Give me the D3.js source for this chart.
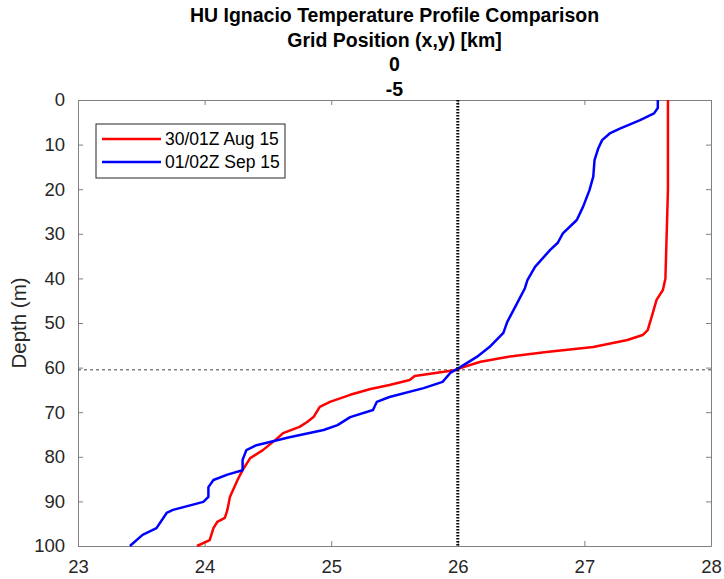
<!DOCTYPE html>
<html>
<head>
<meta charset="utf-8">
<script src="https://cdn.jsdelivr.net/npm/d3@7"></script>
<style>
  body { margin: 0; background: #fff; }
  text { font-family: "Liberation Sans", Arial, sans-serif; }
</style>
</head>
<body>
<div id="chart"></div>
<script>
// profile data: depth (m) and temperature (deg C)
var augDepth = [0, 10, 20, 30, 40, 42.6, 44.8, 47.8, 51.6, 52.7, 53.8, 55.4, 56.5, 57.6, 58.7, 60.1, 60.5,
  61.9, 62.8, 63.9, 64.8, 66.1, 67.7, 68.8, 71.1, 72.2, 73.3, 74.7, 76.2, 78.5, 80.3, 83, 85.2, 89, 91.9, 93.7, 94.6, 96, 98.7, 100];
var augTemp = [27.66, 27.66, 27.66, 27.65, 27.64, 27.62, 27.57, 27.54, 27.50, 27.46, 27.34, 27.07, 26.70, 26.39, 26.18, 26.02, 26.0,
  25.66, 25.62, 25.46, 25.31, 25.15, 24.99, 24.91, 24.86, 24.81, 24.75, 24.62, 24.56, 24.46, 24.36, 24.30, 24.26, 24.20, 24.18, 24.16, 24.10, 24.07, 24.04, 23.94];

var sepDepth = [0, 1.8, 3, 4.5, 6.4, 7.5, 9, 10.8, 13.5, 17.2, 20.2, 23.9, 26.9, 29.9, 32, 33.6, 37.4, 40.4, 42.2, 45.5, 49.8, 52.2,
  55.4, 57.6, 59.9, 61.2, 63.2, 64.6, 66.6, 67.7, 69.5, 71.1, 72.9, 74, 75.6, 77.4, 78.5, 80.7, 83, 84, 85.2, 86.8, 89, 90.1, 91.9, 92.6, 96, 97.5, 100];
var sepTemp = [27.58, 27.58, 27.55, 27.44, 27.28, 27.2, 27.14, 27.11, 27.08, 27.07, 27.04, 26.99, 26.94, 26.83, 26.79, 26.73, 26.61, 26.55, 26.53, 26.47, 26.39, 26.36,
  26.25, 26.15, 26.02, 25.94, 25.88, 25.73, 25.46, 25.36, 25.33, 25.15, 25.05, 24.94, 24.67, 24.41, 24.33, 24.30, 24.30, 24.18, 24.07, 24.03, 24.03, 23.99, 23.75, 23.70, 23.62, 23.51, 23.41];

var seriesNames = ['30/01Z Aug 15', '01/02Z Sep 15'];
var seriesColors = ['#ff0000', '#0000ff'];
var titleLines = ['HU Ignacio Temperature Profile Comparison', 'Grid Position (x,y) [km]', '0', '-5'];
var xTicks = [23, 24, 25, 26, 27, 28];
var yTicks = [0, 10, 20, 30, 40, 50, 60, 70, 80, 90, 100];
var refTemp = 26;
var refDepth = 60.5;

var width = 724, height = 579;
var margin = {top: 100, right: 13, bottom: 33, left: 78};

var svg = d3.select('#chart').append('svg')
  .attr('width', width)
  .attr('height', height);

var x = d3.scaleLinear().domain([23, 28]).range([margin.left, width - margin.right]);
var y = d3.scaleLinear().domain([0, 100]).range([margin.top, height - margin.bottom]);

var axisColor = '#808080';
var textColor = '#262626';

// axes (ticks inward, box on)
var gx = svg.append('g').attr('transform', 'translate(0,' + y(100) + ')')
  .call(d3.axisBottom(x).tickValues(xTicks).tickFormat(d3.format('d')).tickSizeInner(-5).tickSizeOuter(0).tickPadding(14));
var gxTop = svg.append('g').attr('transform', 'translate(0,' + y(0) + ')')
  .call(d3.axisTop(x).tickValues(xTicks).tickSizeInner(-5).tickSizeOuter(0).tickFormat(''));
var gy = svg.append('g').attr('transform', 'translate(' + x(23) + ',0)')
  .call(d3.axisLeft(y).tickValues(yTicks).tickSizeInner(-5).tickSizeOuter(0).tickPadding(13));
var gyRight = svg.append('g').attr('transform', 'translate(' + x(28) + ',0)')
  .call(d3.axisRight(y).tickValues(yTicks).tickSizeInner(-5).tickSizeOuter(0).tickFormat(''));

[gx, gxTop, gy, gyRight].forEach(function(g) {
  g.selectAll('.domain').attr('stroke', axisColor);
  g.selectAll('.tick line').attr('stroke', axisColor);
  g.selectAll('.tick text').attr('fill', textColor).style('font-size', '18.5px');
});
gx.selectAll('.tick text').attr('dy', '0.71em');

// reference lines
svg.append('line')
  .attr('x1', x(23)).attr('x2', x(28))
  .attr('y1', y(refDepth)).attr('y2', y(refDepth))
  .attr('stroke', '#444').attr('stroke-width', 1)
  .attr('stroke-dasharray', '3,3');

var line = d3.line()
  .x(function(d) { return x(d.t); })
  .y(function(d) { return y(d.d); });

var aug = augDepth.map(function(d, i) { return {d: d, t: augTemp[i]}; });
var sep = sepDepth.map(function(d, i) { return {d: d, t: sepTemp[i]}; });

svg.append('path').datum(aug)
  .attr('fill', 'none').attr('stroke', seriesColors[0]).attr('stroke-width', 2.5)
  .attr('stroke-linejoin', 'round').attr('d', line);
svg.append('path').datum(sep)
  .attr('fill', 'none').attr('stroke', seriesColors[1]).attr('stroke-width', 2.5)
  .attr('stroke-linejoin', 'round').attr('d', line);

svg.append('line')
  .attr('x1', x(refTemp)).attr('x2', x(refTemp))
  .attr('y1', y(0)).attr('y2', y(100))
  .attr('stroke', '#000').attr('stroke-width', 3)
  .attr('stroke-dasharray', '1.5,1.5');

// title
svg.selectAll('text.title').data(titleLines).enter().append('text')
  .classed('title', true)
  .attr('x', (x(23) + x(28)) / 2)
  .attr('y', function(d, i) { return 22 + i * 24.5; })
  .attr('text-anchor', 'middle')
  .attr('font-weight', 'bold')
  .style('font-size', '19.5px')
  .attr('fill', '#000')
  .text(function(d) { return d; });

// y label
svg.append('text')
  .attr('transform', 'translate(26,' + ((y(0) + y(100)) / 2) + ') rotate(-90)')
  .attr('text-anchor', 'middle')
  .style('font-size', '20.5px')
  .attr('fill', textColor)
  .text('Depth (m)');

// legend
var lg = svg.append('g').attr('transform', 'translate(96,124)');
lg.append('rect')
  .attr('width', 189).attr('height', 54)
  .attr('fill', '#fff').attr('stroke', '#262626').attr('stroke-width', 1);
seriesNames.forEach(function(name, i) {
  var ly = 15 + i * 23;
  lg.append('line')
    .attr('x1', 6).attr('x2', 65).attr('y1', ly).attr('y2', ly)
    .attr('stroke', seriesColors[i]).attr('stroke-width', 2.5);
  lg.append('text')
    .attr('x', 69).attr('y', ly + 6)
    .style('font-size', '17.5px')
    .attr('fill', '#000')
    .text(name);
});
</script>
</body>
</html>
